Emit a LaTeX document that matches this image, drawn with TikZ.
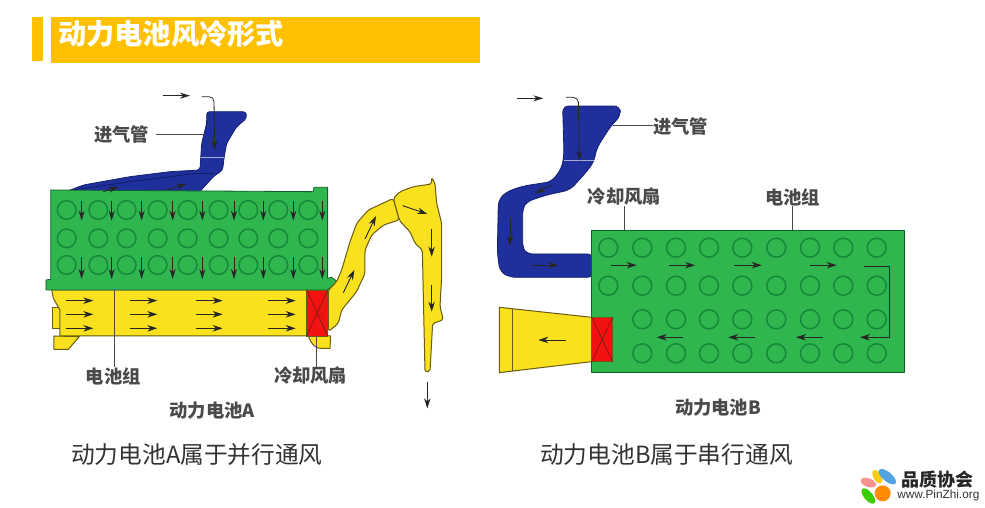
\documentclass[tikz,border=0pt]{standalone}
\usepackage{fontspec}
\setmainfont{Noto Sans CJK SC}
\newfontfamily\latfont{Liberation Sans}
\usetikzlibrary{arrows.meta}
\definecolor{barY}{HTML}{FFC000}
\definecolor{cellG}{HTML}{2FB64F}
\definecolor{ringG}{HTML}{15893A}
\definecolor{ductY}{HTML}{F9E11E}
\definecolor{edgeY}{HTML}{6A5A12}
\definecolor{ductB}{HTML}{1F2F9C}
\definecolor{edgeB}{HTML}{15206E}
\definecolor{fanR}{HTML}{F21212}
\definecolor{crossR}{HTML}{8A1A10}
\definecolor{labelG}{HTML}{4A4A4A}
\tikzset{
  flow/.style={draw=black!85,line width=.9pt,-{Stealth[length=10pt,width=6.5pt]}},
  flowthin/.style={draw=black!85,line width=.8pt,-{Stealth[length=10pt,width=6pt]}},
  leader/.style={draw=labelG,line width=.9pt},
  cell/.style={draw=ringG,line width=1.5pt},
  pack/.style={fill=cellG,draw=ringG!70!black,line width=.8pt,line join=round},
  ductyel/.style={fill=ductY,draw=edgeY,line width=1pt,line join=round},
  ductblu/.style={fill=ductB,draw=edgeB,line width=.8pt,line join=round},
  fanbox/.style={fill=fanR,draw=edgeY,line width=.8pt},
  fancross/.style={draw=crossR,line width=.8pt},
  part/.style={font=\fontsize{18.3}{18.3}\selectfont\bfseries,text=labelG,inner sep=0pt},
  caption/.style={font=\fontsize{23.7}{23.7}\selectfont,text=black!80,inner sep=0pt,anchor=west},
}
\begin{document}
\begin{tikzpicture}[x=1pt,y=-1pt]
\useasboundingbox (0,0) rectangle (985,507);
\fill[white] (0,0) rectangle (985,507);
% title
\fill[barY] (32.3,16.7) rectangle (43,60.5);
\fill[barY] (50.7,16.7) rectangle (480,62.7);
\node[inner sep=0pt,anchor=west,text=white,font=\fontsize{28.2}{28.2}\selectfont\bfseries] (title) at (58,34) {动力电池风冷形式};

% ---------- Battery A (zoom coordinates)
\begin{scope}[shift={(30,80)},x=.3333pt,y=-.3333pt]
  % small yellow parts
  \draw[ductyel] (68,682) rectangle (92,745);
  \draw[ductyel] (72,768) -- (148,770) -- (115,808) -- (72,808) -- cycle;
  \draw[ductyel] (835,768) .. controls (845,795) and (860,808) .. (875,805) -- (900,805) -- (902,768) -- cycle;
  % yellow channel
  \draw[ductyel] (65,630) -- (70,655) -- (90,690) -- (90,768) -- (830,768) -- (830,630) -- cycle;
  % blue inlet
  \draw[ductblu,rounded corners=3pt] (530,95) -- (648,95) -- (650,115) -- (620,140) -- (590,190) -- (582,235) -- (578,270) -- (550,290) -- (505,340) -- (95,340) -- (160,315) -- (300,290) -- (420,275) -- (510,270) -- (515,190) -- (530,130) -- cycle;
  \draw[white!60!ductB,line width=.5pt] (512,232) -- (582,232);
  \draw[edgeB!70!black,line width=.5pt] (110,333) -- (300,305) -- (500,280) -- (550,280);
  % pack
  \draw[pack] (62,330) -- (850,335) -- (852,322) -- (893,322) -- (893,595) -- (905,592) -- (922,605) -- (893,630) -- (48,630) -- (48,600) -- (62,598) -- cycle;
  \foreach \cx in {110,205,290,383,473,566,655,745,835}
    \foreach \cy in {390,475,555}
      \draw[cell] (\cx,\cy) circle (28);
  \foreach \ax in {155,245,335,428,517,612,700,790,877}{
    \draw[flowthin] (\ax,362) -- (\ax,422);
    \draw[flowthin] (\ax,532) -- (\ax,597);
  }
  % fan
  \draw[fanbox] (830,630) rectangle (893,768);
  \draw[fancross] (830,630) -- (893,768) (893,630) -- (830,768);
  % channel arrows
  \foreach \sx/\ex in {108/190,300/382,497/578,715/797}
    \foreach \ay in {662,703,745}
      \draw[flow] (\sx,\ay) -- (\ex,\ay);
  % labels
  \node[part] (inA) at (275,165) {进气管};
  \coordinate (inAend) at (525,163);
  \draw[leader] (inA.east |- inAend) ++(20,0) -- (inAend);
  \node[part] (packA) at (250,888) {电池组};
  \coordinate (packAtop) at (253,630);
  \draw[leader] (packAtop) -- (packAtop |- packA.north);
  \node[part] (fanA) at (842,888) {冷却风扇};
  \coordinate (fanAtop) at (860,770);
  \draw[leader] (fanAtop) -- (fanAtop |- fanA.north);
  \node[part] (nameA) at (547,993) {动力电池A};
  % inlet arrows
  \coordinate (topA1) at (398,47);
  \coordinate (topA2) at (480,47);
  \draw[flowthin] (topA1) -- (topA2);
  \coordinate (inletA) at (515,50);
  \draw[flowthin,rounded corners=5pt] (inletA) -- (552,50) -- (554,212);
  \draw[flowthin] (220,335) -- (265,320);
  \draw[flowthin] (410,330) -- (470,312);
\end{scope}

% ---------- outlet duct A
\begin{scope}[shift={(300,160)},x=.3333pt,y=-.3333pt]
  \draw[ductyel,rounded corners=3pt] (85,390) -- (110,365) -- (125,330) -- (150,245) -- (170,190) -- (205,150) -- (280,115) -- (298,180) -- (250,195) -- (215,225) -- (195,270) -- (195,340) -- (170,395) -- (125,450) -- (115,490) -- (85,515) -- cycle;
  \draw[ductyel,rounded corners=2pt] (280,115) -- (300,95) -- (340,80) -- (395,72) -- (395,52) -- (405,70) -- (410,130) -- (425,190) -- (425,350) -- (420,440) -- (430,480) -- (398,490) -- (390,635) -- (375,635) -- (367,270) -- (345,250) -- (330,215) -- (310,195) -- (298,180) -- cycle;
  \draw[flow] (195,237) -- (228,168);
  \draw[flow] (130,398) -- (163,330);
  \draw[flow] (308,137) -- (382,162);
  \draw[flow] (395,208) -- (395,290);
  \draw[flow] (395,375) -- (395,455);
  \draw[flow] (382,665) -- (382,745);
\end{scope}

% ---------- Battery B, left part
\begin{scope}[shift={(490,80)},x=.3333pt,y=-.3333pt]
  % blue duct
  \draw[ductblu,rounded corners=6pt] (218,78) -- (390,78) -- (392,108) -- (365,135) -- (345,165) -- (320,205) -- (312,245) -- (290,275) -- (240,330) -- (170,345) -- (110,365) -- (98,385) -- (98,505) -- (110,522) -- (310,522) -- (310,592) -- (60,592) -- (30,575) -- (22,520) -- (25,360) -- (50,335) -- (100,318) -- (185,305) -- (215,265) -- (222,225) -- cycle;
  \draw[white!60!ductB,line width=.5pt] (222,242) -- (312,242);
  % yellow outlet
  \draw[ductyel] (28,682) -- (305,712) -- (305,845) -- (28,878) -- cycle;
  \draw[edgeY,line width=1pt] (67,687) -- (67,873);
  \draw[flow] (228,780) -- (145,780);
  \draw[flowthin] (80,55) -- (160,55);
  \coordinate (inletB) at (228,52);
  \draw[flowthin,rounded corners=5pt] (inletB) -- (265,52) -- (268,242);
  \draw[flow] (60,415) -- (60,498);
  \draw[flow] (125,556) -- (205,556);
  \draw[flowthin] (185,315) -- (135,340);
\end{scope}
% pack B
\draw[pack] (591.7,230) rectangle (904,372.7);
\foreach \cx in {608.3,642.3,676,709,742.3,776.3,810,843.3,876.7}
  \foreach \cy in {247.7,285.7}
    \draw[cell] (\cx,\cy) circle (9.5);
\foreach \cx in {642.3,676,709,742.3,776.3,810,843.3,876.7}
  \foreach \cy in {319.3,353.3}
    \draw[cell] (\cx,\cy) circle (9.5);
\foreach \sx/\ex in {610.7/636.7,669/695,734/761.7,810/836.7}
  \draw[flow] (\sx,265.2) -- (\ex,265.2);
\coordinate (bendS) at (864,266.7);
\coordinate (bendA) at (889.3,266.7);
\coordinate (bendB) at (889.3,337.3);
\coordinate (bendE) at (860,337.3);
\draw[flow] (bendS) -- (bendA) -- (bendB) -- (bendE);
\foreach \sx/\ex in {822.7/796,755/728.3,683/656.7}
  \draw[flow] (\sx,337.3) -- (\ex,337.3);
% fan B
\draw[fanbox] (591.7,317.3) rectangle (612.7,361.7);
\draw[fancross] (591.7,317.3) -- (612.7,361.7) (612.7,317.3) -- (591.7,361.7);
% labels B
\node[part] (inB) at (680.7,126) {进气管};
\coordinate (inBend) at (613,125);
\draw[leader] (inBend) -- (inB.west |- inBend);
\node[part] (fanB) at (624.3,197) {冷却风扇};
\coordinate (fanBtop) at (624.7,230);
\draw[leader] (fanBtop) -- (fanBtop |- fanB.south);
\node[part] (packB) at (792.7,197.3) {电池组};
\coordinate (packBtop) at (792.7,230);
\draw[leader] (packBtop) -- (packBtop |- packB.south);
\node[part] (nameB) at (718,408) {动力电池B};
% captions
\node[caption] (capA) at (71,455) {动力电池A属于并行通风};
\node[caption] (capB) at (540,455) {动力电池B属于串行通风};
% logo
\begin{scope}[shift={(850,460)},x=.3333pt,y=-.3333pt]
  \fill[ductY!80!orange,rotate around={-60:(82,50)}] (82,50) ellipse (22 and 12);
  \fill[cyan!70!blue!70!white,rotate around={-40:(112,50)}] (112,50) ellipse (32 and 14);
  \fill[magenta!45!orange!60!white,rotate around={-20:(55,68)}] (55,68) ellipse (24 and 13);
  \fill[green!70!yellow!80!black,rotate around={-50:(55,108)}] (55,108) ellipse (28 and 13);
  \fill[orange!90!yellow] (98,100) circle (24);
  \node[inner sep=0pt,font=\fontsize{18}{18}\selectfont\bfseries,text=black!85] (logoT) at (262,58) {品质协会};
  \node[inner sep=0pt,font=\latfont\fontsize{11.8}{12}\selectfont,text=black!80] (logoU) at (265,107) {www.PinZhi.org};
\end{scope}
\end{tikzpicture}
\end{document}
